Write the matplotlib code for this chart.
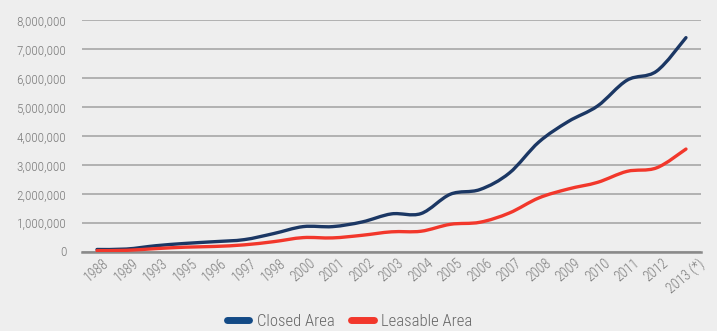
import matplotlib.pyplot as plt
import numpy as np
from matplotlib.path import Path
from matplotlib.patches import PathPatch
from matplotlib.lines import Line2D
from matplotlib.ticker import FuncFormatter
import matplotlib.transforms as mtransforms

years = ["1988", "1989", "1993", "1995", "1996", "1997", "1998", "2000", "2001", "2002",
         "2003", "2004", "2005", "2006", "2007", "2008", "2009", "2010", "2011", "2012",
         "2013 (*)"]
closed_area = [70000, 85000, 200000, 280000, 340000, 410000, 620000, 860000, 860000, 1020000,
               1300000, 1310000, 1980000, 2140000, 2710000, 3780000, 4490000, 5030000, 5920000, 6230000,
               7390000]
leasable_area = [30000, 40000, 100000, 150000, 175000, 230000, 340000, 480000, 470000, 560000,
                 680000, 700000, 940000, 1010000, 1330000, 1850000, 2160000, 2390000, 2770000, 2890000,
                 3540000]

NAVY = "#1b3764"
RED = "#f2372b"
BG = "#eeeeee"
TEXT = "#7a7a7a"

plt.rcParams["font.family"] = ["Roboto Condensed", "Liberation Sans Narrow", "Roboto", "DejaVu Sans"]
plt.rcParams["font.weight"] = "light"


def smooth_path(xs, ys):
    # cubic bezier through every point, tangents from neighbouring points
    pts = np.column_stack([xs, ys]).astype(float)
    n = len(pts)
    verts = [pts[0]]
    codes = [Path.MOVETO]
    for i in range(n - 1):
        p0 = pts[i - 1] if i > 0 else pts[i]
        p1, p2 = pts[i], pts[i + 1]
        p3 = pts[i + 2] if i + 2 < n else pts[i + 1]
        c1 = p1 + (p2 - p0) / 6.0
        c2 = p2 - (p3 - p1) / 6.0
        verts += [c1, c2, p2]
        codes += [Path.CURVE4] * 3
    return Path(verts, codes)


fig = plt.figure(figsize=(7.17, 3.31), dpi=100, facecolor=BG)
ax = fig.add_axes([82.3 / 717, 1 - 251.5 / 331, 618.4 / 717, 231.5 / 331])
ax.set_facecolor(BG)

x = np.arange(len(years))
for vals, col in [(closed_area, NAVY), (leasable_area, RED)]:
    ax.add_patch(PathPatch(smooth_path(x, vals), facecolor="none", edgecolor=col,
                           lw=2.4, capstyle="round", joinstyle="round", zorder=3))

ax.set_xlim(-0.5, len(years) - 0.5)
ax.set_ylim(0, 8000000)
ax.set_yticks(np.arange(0, 8000001, 1000000))
ax.yaxis.set_major_formatter(FuncFormatter(lambda v, p: f"{int(v):,}"))
ax.grid(axis="y", color="#acacac", lw=1.3, zorder=0)
ax.set_axisbelow(True)
for s in ["top", "right", "left"]:
    ax.spines[s].set_visible(False)
ax.spines["bottom"].set_color("#8a8a8a")
ax.spines["bottom"].set_linewidth(1.8)

ax.set_xticks(x)
ax.set_xticklabels(years, rotation=40, ha="center", va="top")
offset = mtransforms.ScaledTranslation(-4 / 100, -6 / 100, fig.dpi_scale_trans)
for lbl in ax.get_xticklabels():
    lbl.set_transform(lbl.get_transform() + offset)
ax.tick_params(axis="x", length=0, colors=TEXT, labelsize=10)
ax.tick_params(axis="y", length=0, colors=TEXT, labelsize=9.5, pad=11.5)

handles = [Line2D([], [], color="#134a86", lw=5, solid_capstyle="round"),
           Line2D([], [], color=RED, lw=5, solid_capstyle="round")]
fig.legend(handles, ["Closed Area", "Leasable Area"], loc="center", bbox_to_anchor=(0.4875, 0.03),
           ncol=2, frameon=False, fontsize=12, labelcolor="#666666", handlelength=1.35,
           handletextpad=0.45, columnspacing=1.0)

fig.savefig("out.png", dpi=100, facecolor=BG)
